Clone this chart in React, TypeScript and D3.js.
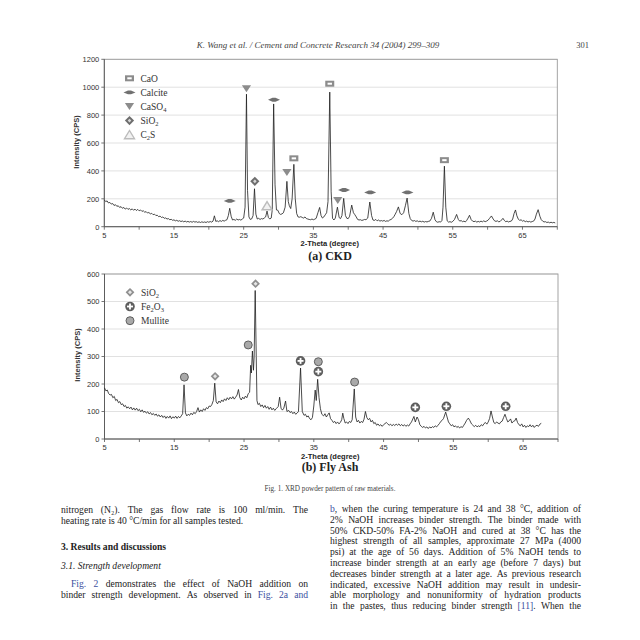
import React from 'react';
import * as d3 from 'd3';

// ---------- DATA ----------
const ckdPattern: [number, number][] = [
  [5.0,192],[5.2,180],[5.4,185],[5.6,170],[5.8,174],[6.0,162],[6.2,166],[6.4,152],[6.6,158],[6.8,146],
  [7.0,150],[7.2,138],[7.4,144],[7.6,132],[7.8,138],[8.0,126],[8.2,134],[8.4,124],[8.6,130],[8.8,120],
  [9.0,128],[9.2,118],[9.4,126],[9.6,116],[9.8,124],[10.0,114],[10.2,120],[10.4,110],[10.6,114],[10.8,104],
  [11.0,108],[11.2,98],[11.4,102],[11.6,92],[11.8,96],[12.0,86],[12.2,90],[12.4,80],[12.6,82],[12.8,72],
  [13.0,76],[13.2,66],[13.4,70],[13.6,60],[13.8,63],[14.0,55],[14.2,58],[14.4,50],[14.6,53],[14.8,46],
  [15.0,49],[15.2,42],[15.4,46],[15.6,39],[15.8,43],[16.0,37],[16.2,41],[16.4,35],[16.6,40],[16.8,34],
  [17.0,38],[17.2,33],[17.4,37],[17.6,32],[17.8,38],[18.0,33],[18.2,36],[18.4,31],[18.6,35],[18.8,30],
  [19.0,35],[19.2,31],[19.4,34],[19.6,30],[19.8,36],[20.0,32],[20.2,37],[20.4,33],[20.6,40],[20.8,78],
  [21.0,38],[21.2,42],[21.4,36],[21.6,44],[21.8,38],[22.0,45],[22.2,40],[22.4,46],[22.6,50],[22.8,80],
  [23.0,132],[23.2,75],[23.4,48],[23.6,52],[23.8,46],[24.0,55],[24.2,48],[24.4,52],[24.6,47],[24.8,55],
  [25.0,62],[25.2,140],[25.4,950],[25.55,260],[25.75,70],[25.95,52],[26.15,56],[26.35,80],[26.55,272],[26.75,90],
  [26.95,55],[27.15,60],[27.35,52],[27.55,58],[27.75,55],[27.95,62],[28.15,70],[28.35,112],[28.55,65],[28.75,55],
  [28.95,62],[29.1,120],[29.3,880],[29.5,300],[29.7,120],[29.9,118],[30.1,95],[30.3,88],[30.5,92],[30.7,100],
  [30.95,140],[31.2,325],[31.4,180],[31.55,150],[31.75,130],[31.95,200],[32.2,447],[32.4,200],[32.6,95],[32.8,70],
  [33.0,68],[33.2,72],[33.4,66],[33.6,62],[33.8,70],[34.0,58],[34.2,55],[34.4,52],[34.6,50],[34.8,55],
  [35.0,50],[35.2,54],[35.4,60],[35.65,100],[35.9,138],[36.1,80],[36.3,62],[36.5,70],[36.7,85],[36.9,100],
  [37.1,180],[37.35,965],[37.55,250],[37.75,60],[37.95,48],[38.15,62],[38.45,140],[38.7,65],[38.9,58],[39.1,80],
  [39.35,203],[39.6,80],[39.8,60],[40.0,58],[40.2,75],[40.5,155],[40.75,100],[40.95,86],[41.15,70],[41.35,52],
  [41.55,48],[41.75,50],[41.95,45],[42.15,48],[42.35,52],[42.55,50],[42.8,62],[43.1,177],[43.35,80],[43.55,48],
  [43.75,45],[43.95,52],[44.15,42],[44.35,48],[44.55,40],[44.75,44],[44.95,40],[45.15,45],[45.35,38],[45.55,42],
  [45.75,40],[45.95,48],[46.15,52],[46.35,60],[46.55,72],[46.75,90],[46.95,110],[47.2,142],[47.45,95],[47.7,86],
  [47.95,100],[48.2,150],[48.45,205],[48.7,95],[48.9,58],[49.1,45],[49.3,40],[49.5,44],[49.7,38],[49.9,42],
  [50.1,36],[50.3,40],[50.5,35],[50.7,39],[50.9,33],[51.1,37],[51.3,34],[51.5,38],[51.7,40],[51.95,60],
  [52.2,104],[52.45,50],[52.65,36],[52.85,32],[53.05,36],[53.25,33],[53.45,45],[53.6,140],[53.8,434],[54.0,140],
  [54.2,42],[54.4,33],[54.6,36],[54.8,32],[55.0,38],[55.25,52],[55.55,88],[55.8,52],[56.0,40],[56.2,44],
  [56.4,36],[56.6,40],[56.8,34],[57.0,45],[57.2,62],[57.4,82],[57.65,50],[57.85,40],[58.05,36],[58.25,40],
  [58.45,33],[58.65,38],[58.85,34],[59.05,40],[59.25,35],[59.45,42],[59.65,36],[59.85,40],[60.05,46],[60.25,58],
  [60.55,77],[60.8,55],[61.0,42],[61.2,38],[61.4,42],[61.6,35],[61.8,38],[62.0,48],[62.2,60],[62.4,45],
  [62.6,36],[62.8,40],[63.0,34],[63.2,38],[63.4,40],[63.6,55],[63.8,95],[64.0,120],[64.2,78],[64.4,55],
  [64.6,45],[64.8,50],[65.0,40],[65.2,44],[65.4,36],[65.6,40],[65.8,34],[66.0,38],[66.2,33],[66.4,37],
  [66.6,40],[66.8,55],[67.0,90],[67.25,122],[67.5,75],[67.7,50],[67.9,40],[68.1,34],[68.3,36],[68.5,30],
  [68.7,33],[68.9,28],[69.1,32],[69.3,28],[69.5,31],[69.7,27]
];

const flyAshPattern: [number, number][] = [
  [5.0,186],[5.2,175],[5.4,178],[5.6,165],[5.8,160],[6.0,162],[6.2,150],[6.4,155],[6.6,140],[6.8,144],
  [7.0,132],[7.2,136],[7.4,125],[7.6,128],[7.8,118],[8.0,122],[8.2,112],[8.4,117],[8.6,110],[8.8,116],
  [9.0,106],[9.2,113],[9.4,105],[9.6,112],[9.8,103],[10.0,108],[10.2,99],[10.4,106],[10.6,97],[10.8,101],
  [11.0,94],[11.2,99],[11.4,91],[11.6,96],[11.8,88],[12.0,93],[12.2,86],[12.4,91],[12.6,83],[12.8,88],
  [13.0,80],[13.2,86],[13.4,78],[13.6,84],[13.8,75],[14.0,82],[14.2,76],[14.4,84],[14.6,74],[14.8,81],
  [15.0,76],[15.2,83],[15.4,75],[15.6,82],[15.8,77],[16.0,84],[16.2,92],[16.4,197],[16.6,95],[16.8,84],
  [17.0,90],[17.2,86],[17.4,94],[17.6,88],[17.8,97],[18.0,92],[18.2,100],[18.4,114],[18.6,98],[18.8,106],
  [19.0,100],[19.2,110],[19.4,104],[19.6,114],[19.8,110],[20.0,120],[20.2,118],[20.4,126],[20.6,140],[20.8,203],
  [21.0,135],[21.2,128],[21.4,138],[21.6,132],[21.8,142],[22.0,136],[22.2,146],[22.4,140],[22.6,150],[22.8,143],
  [23.0,152],[23.2,146],[23.4,154],[23.6,145],[23.8,152],[24.0,160],[24.2,180],[24.4,150],[24.6,142],[24.8,152],
  [25.0,146],[25.2,156],[25.4,150],[25.6,165],[25.8,170],[25.95,268],[26.05,240],[26.2,320],[26.35,250],[26.45,300],
  [26.6,540],[26.75,300],[26.85,140],[27.0,125],[27.2,130],[27.4,118],[27.6,124],[27.8,114],[28.0,122],[28.2,112],
  [28.4,118],[28.6,108],[28.8,116],[29.0,106],[29.2,112],[29.4,104],[29.6,110],[29.9,118],[30.1,152],[30.3,112],
  [30.5,105],[30.7,112],[30.95,138],[31.15,100],[31.4,104],[31.6,96],[31.8,100],[32.0,92],[32.2,98],[32.4,90],
  [32.6,94],[32.8,100],[33.1,258],[33.35,100],[33.6,86],[33.8,90],[34.0,80],[34.2,84],[34.4,74],[34.6,70],
  [34.8,78],[35.0,120],[35.2,178],[35.35,140],[35.55,217],[35.75,150],[35.95,110],[36.15,90],[36.4,84],[36.6,92],
  [36.8,80],[37.0,88],[37.2,95],[37.4,74],[37.6,68],[37.8,60],[38.0,64],[38.2,56],[38.4,62],[38.6,55],
  [38.8,60],[39.0,70],[39.15,94],[39.3,75],[39.5,58],[39.7,62],[39.9,56],[40.1,64],[40.3,60],[40.5,70],
  [40.8,182],[41.0,80],[41.2,62],[41.4,68],[41.6,58],[41.8,64],[42.0,60],[42.2,72],[42.4,100],[42.6,78],
  [42.8,70],[43.0,75],[43.2,62],[43.4,68],[43.6,56],[43.8,60],[44.0,50],[44.2,55],[44.4,48],[44.6,52],
  [44.8,46],[45.0,52],[45.2,56],[45.4,60],[45.6,55],[45.8,50],[46.0,54],[46.2,48],[46.4,53],[46.6,49],
  [46.8,54],[47.0,50],[47.2,55],[47.4,48],[47.6,53],[47.8,47],[48.0,52],[48.2,46],[48.4,51],[48.6,47],
  [48.8,55],[49.0,62],[49.35,82],[49.55,62],[49.8,80],[50.0,70],[50.2,52],[50.4,46],[50.6,42],[50.8,46],
  [51.0,40],[51.2,44],[51.4,38],[51.6,44],[51.8,40],[52.0,45],[52.2,42],[52.4,48],[52.6,44],[52.8,50],
  [53.0,56],[53.2,64],[53.4,68],[53.6,75],[53.9,98],[54.1,80],[54.3,62],[54.5,55],[54.7,48],[54.9,52],
  [55.1,44],[55.3,48],[55.5,42],[55.7,46],[55.9,40],[56.1,45],[56.3,42],[56.5,50],[56.7,58],[56.9,68],
  [57.15,76],[57.35,68],[57.6,55],[57.8,50],[58.0,45],[58.2,50],[58.4,44],[58.6,48],[58.8,45],[59.0,52],
  [59.2,48],[59.4,56],[59.6,60],[59.8,54],[60.0,62],[60.2,75],[60.4,102],[60.6,80],[60.8,60],[61.0,56],
  [61.2,62],[61.4,58],[61.6,55],[61.8,62],[62.0,65],[62.2,78],[62.4,90],[62.6,75],[62.8,62],[63.0,66],
  [63.2,73],[63.4,58],[63.6,64],[63.8,66],[64.0,76],[64.2,60],[64.4,52],[64.6,48],[64.8,55],[65.0,44],
  [65.2,50],[65.4,42],[65.6,48],[65.8,45],[66.0,52],[66.2,44],[66.4,50],[66.6,42],[66.8,48],[67.0,50],
  [67.2,46],[67.4,54],[67.6,57]
];

const xDomain: [number, number] = [5, 70];
const xTickValues = [5, 10, 15, 20, 25, 30, 35, 40, 45, 50, 55, 60, 65, 70];
const xTickLabels = [5, 15, 25, 35, 45, 55, 65];
const ckdYTicks = [0, 200, 400, 600, 800, 1000, 1200];
const flyYTicks = [0, 100, 200, 300, 400, 500, 600];

type MarkerKind = 'CaO' | 'Calcite' | 'CaSO4' | 'SiO2' | 'C2S' | 'SiO2b' | 'Fe2O3' | 'Mullite';

const ckdMarkers: { kind: MarkerKind; x: number; y: number }[] = [
  { kind: 'Calcite', x: 23.0, y: 185 },
  { kind: 'CaSO4', x: 25.4, y: 990 },
  { kind: 'SiO2', x: 26.6, y: 325 },
  { kind: 'C2S', x: 28.35, y: 150 },
  { kind: 'Calcite', x: 29.35, y: 910 },
  { kind: 'CaSO4', x: 31.2, y: 390 },
  { kind: 'CaO', x: 32.2, y: 490 },
  { kind: 'CaO', x: 37.35, y: 1025 },
  { kind: 'CaSO4', x: 38.5, y: 188 },
  { kind: 'Calcite', x: 39.4, y: 263 },
  { kind: 'Calcite', x: 43.15, y: 246 },
  { kind: 'Calcite', x: 48.5, y: 246 },
  { kind: 'CaO', x: 53.8, y: 477 },
];

const flyMarkers: { kind: MarkerKind; x: number; y: number }[] = [
  { kind: 'Mullite', x: 16.45, y: 225 },
  { kind: 'SiO2b', x: 20.85, y: 228 },
  { kind: 'Mullite', x: 25.6, y: 342 },
  { kind: 'SiO2b', x: 26.65, y: 565 },
  { kind: 'Fe2O3', x: 33.1, y: 284 },
  { kind: 'Mullite', x: 35.65, y: 281 },
  { kind: 'Fe2O3', x: 35.65, y: 245 },
  { kind: 'Mullite', x: 40.85, y: 207 },
  { kind: 'Fe2O3', x: 49.55, y: 115 },
  { kind: 'Fe2O3', x: 54.0, y: 119 },
  { kind: 'Fe2O3', x: 62.5, y: 119 },
];

// label parts: [text, isSubscript]
const ckdLegend: { kind: MarkerKind; label: [string, boolean][] }[] = [
  { kind: 'CaO', label: [['CaO', false]] },
  { kind: 'Calcite', label: [['Calcite', false]] },
  { kind: 'CaSO4', label: [['CaSO', false], ['4', true]] },
  { kind: 'SiO2', label: [['SiO', false], ['2', true]] },
  { kind: 'C2S', label: [['C', false], ['2', true], ['S', false]] },
];
const flyLegend: { kind: MarkerKind; label: [string, boolean][] }[] = [
  { kind: 'SiO2b', label: [['SiO', false], ['2', true]] },
  { kind: 'Fe2O3', label: [['Fe', false], ['2', true], ['O', false], ['3', true]] },
  { kind: 'Mullite', label: [['Mullite', false]] },
];

const leftColumn: { text: string; justify: boolean; style?: string; indent?: number }[] = [
  { text: 'nitrogen (N₂). The gas flow rate is 100 ml/min. The', justify: true },
  { text: 'heating rate is 40 °C/min for all samples tested.', justify: false },
  { text: '3. Results and discussions', justify: false, style: 'bold' },
  { text: '3.1. Strength development', justify: false, style: 'italic' },
  { text: '{Fig. 2} demonstrates the effect of NaOH addition on', justify: true, indent: 10 },
  { text: 'binder strength development. As observed in {Fig. 2a and}', justify: true },
];
const leftColumnY = [512.5, 524, 550, 568.5, 586.5, 598];

const rightColumn: string[] = [
  '{b}, when the curing temperature is 24 and 38 °C, addition of',
  '2% NaOH increases binder strength. The binder made with',
  '50% CKD-50% FA-2% NaOH and cured at 38 °C has the',
  'highest strength of all samples, approximate 27 MPa (4000',
  'psi) at the age of 56 days. Addition of 5% NaOH tends to',
  'increase binder strength at an early age (before 7 days) but',
  'decreases binder strength at a later age. As previous research',
  'indicated, excessive NaOH addition may result in undesir-',
  'able morphology and nonuniformity of hydration products',
  'in the pastes, thus reducing binder strength {[11]}. When the',
];

// ---------- HELPERS ----------
const SERIF = '"Liberation Serif", "Times New Roman", serif';
const SANS = '"Liberation Sans", Arial, sans-serif';
const BLUE = '#3b4fa0';

let measureCtx: CanvasRenderingContext2D | null = null;
function textWidth(s: string, font: string) {
  if (!measureCtx) measureCtx = document.createElement('canvas').getContext('2d');
  if (!measureCtx) return s.length * 4.5;
  measureCtx.font = font;
  return measureCtx.measureText(s).width;
}

type Seg = { t: string; blue: boolean };
function parseLine(text: string): Seg[][] {
  const segs: Seg[] = [];
  let blue = false;
  let cur = '';
  for (const ch of text) {
    if (ch === '{' || ch === '}') {
      if (cur) segs.push({ t: cur, blue });
      cur = '';
      blue = ch === '{';
    } else cur += ch;
  }
  if (cur) segs.push({ t: cur, blue });
  const words: Seg[][] = [[]];
  for (const s of segs) {
    const parts = s.t.split(' ');
    parts.forEach((p, i) => {
      if (i > 0) words.push([]);
      if (p) words[words.length - 1].push({ t: p, blue: s.blue });
    });
  }
  return words.filter((w) => w.length > 0);
}

function TextLine({ text, x0, x1, y, justify, size, style }: { text: string; x0: number; x1: number; y: number; justify: boolean; size: number; style?: string }) {
  const weight = style === 'bold' ? 'bold' : 'normal';
  const fstyle = style === 'italic' ? 'italic' : 'normal';
  const font = `${fstyle} ${weight} ${size}px ${SERIF}`;
  const words = parseLine(text);
  const widths = words.map((w) => w.reduce((a, s) => a + textWidth(s.t, font), 0));
  const total = widths.reduce((a, b) => a + b, 0);
  const space = textWidth(' ', font);
  const gap = justify && words.length > 1 ? (x1 - x0 - total) / (words.length - 1) : space;
  let x = x0;
  return (
    <g fontFamily={SERIF} fontSize={size} fontWeight={weight} fontStyle={fstyle} fill="#222">
      {words.map((w, i) => {
        const el = (
          <text key={i} x={x} y={y}>
            {w.map((s, j) => (
              <tspan key={j} fill={s.blue ? BLUE : '#222'}>{s.t}</tspan>
            ))}
          </text>
        );
        x += widths[i] + gap;
        return el;
      })}
    </g>
  );
}

function Marker({ kind, cx, cy }: { kind: MarkerKind; cx: number; cy: number }) {
  const t = `translate(${cx},${cy})`;
  switch (kind) {
    case 'CaO':
      return (
        <g transform={t}>
          <rect x={-4.5} y={-3} width={9} height={6} fill="#8c8c8c" />
          <rect x={-2.2} y={-1} width={4.4} height={2} fill="#fff" />
        </g>
      );
    case 'Calcite':
      return (
        <g transform={t}>
          <path d="M-6,0 L-1.5,-1.9 L1.5,-1.9 L6,0 L1.5,1.9 L-1.5,1.9Z" fill="#707070" />
        </g>
      );
    case 'CaSO4':
      return (
        <g transform={t}>
          <path d="M-4.6,-3.4 L4.6,-3.4 L0,3.6Z" fill="#8c8c8c" />
        </g>
      );
    case 'SiO2':
      return (
        <g transform={t}>
          <path d="M0,-4.6 L4.6,0 L0,4.6 L-4.6,0Z" fill="#6e6e6e" />
          <path d="M0,-1.8 L1.8,0 L0,1.8 L-1.8,0Z" fill="#d8d8d8" />
        </g>
      );
    case 'C2S':
      return (
        <g transform={t}>
          <path d="M0,-4.2 L5,4 L-5,4Z" fill="#f2f2f2" stroke="#bcbcbc" strokeWidth={1.4} />
        </g>
      );
    case 'SiO2b':
      return (
        <g transform={t}>
          <path d="M0,-4.4 L4.4,0 L0,4.4 L-4.4,0Z" fill="#8f8f8f" />
          <path d="M0,-2 L2,0 L0,2 L-2,0Z" fill="#e6e6e6" />
        </g>
      );
    case 'Fe2O3':
      return (
        <g transform={t}>
          <circle r={4.8} fill="#5e5e5e" />
          <rect x={-3} y={-0.9} width={6} height={1.8} fill="#fff" />
          <rect x={-0.9} y={-3} width={1.8} height={6} fill="#fff" />
        </g>
      );
    case 'Mullite':
      return (
        <g transform={t}>
          <circle r={4} fill="#a9a9a9" stroke="#555" strokeWidth={0.9} />
        </g>
      );
  }
  return null;
}

function Label({ parts, x, y }: { parts: [string, boolean][]; x: number; y: number }) {
  return (
    <text x={x} y={y} fontFamily={SERIF} fontSize={9.5} fill="#333">
      {parts.map(([s, sub], i) => (
        <tspan key={i} fontSize={sub ? 6.5 : 9.5} dy={sub ? 2 : i > 0 && parts[i - 1][1] ? -2 : 0}>
          {s}
        </tspan>
      ))}
    </text>
  );
}

type ChartProps = {
  data: [number, number][];
  yMax: number;
  yTicks: number[];
  left: number;
  right: number;
  top: number;
  bottom: number;
  markers: { kind: MarkerKind; x: number; y: number }[];
  legend: { kind: MarkerKind; label: [string, boolean][] }[];
  legendX: number;
  legendY: number;
  legendStep: number;
  yTitleY: number;
};

function XrdChart(p: ChartProps) {
  const x = d3.scaleLinear().domain(xDomain).range([p.left, p.right]);
  const y = d3.scaleLinear().domain([0, p.yMax]).range([p.bottom, p.top]);
  const line = d3
    .line<[number, number]>()
    .x((d) => x(d[0]))
    .y((d) => y(d[1]));
  return (
    <g>
      {p.yTicks.map((t) => (
        <line key={'g' + t} x1={p.left} x2={p.right} y1={y(t)} y2={y(t)} stroke="#d4d4d4" strokeWidth={0.7} />
      ))}
      <rect x={p.left} y={p.top} width={p.right - p.left} height={p.bottom - p.top} fill="none" stroke="#9a9a9a" strokeWidth={0.9} />
      <line x1={p.left} x2={p.left} y1={p.top} y2={p.bottom} stroke="#555" strokeWidth={0.9} />
      <line x1={p.left} x2={p.right} y1={p.bottom} y2={p.bottom} stroke="#555" strokeWidth={0.9} />
      {p.yTicks.map((t) => (
        <g key={'yt' + t}>
          <line x1={p.left - 3} x2={p.left} y1={y(t)} y2={y(t)} stroke="#555" strokeWidth={0.8} />
          <text x={p.left - 5} y={y(t) + 2.8} textAnchor="end" fontFamily={SANS} fontSize={7.5} fill="#333">
            {t}
          </text>
        </g>
      ))}
      {xTickValues.map((t) => (
        <line key={'xt' + t} x1={x(t)} x2={x(t)} y1={p.bottom} y2={p.bottom + 3} stroke="#555" strokeWidth={0.8} />
      ))}
      {xTickLabels.map((t) => (
        <text key={'xl' + t} x={x(t)} y={p.bottom + 11} textAnchor="middle" fontFamily={SANS} fontSize={7.5} fill="#333">
          {t}
        </text>
      ))}
      <path d={line(p.data) || ''} fill="none" stroke="#1e1e1e" strokeWidth={0.8} strokeLinejoin="round" />
      {p.markers.map((m, i) => (
        <Marker key={i} kind={m.kind} cx={x(m.x)} cy={y(m.y)} />
      ))}
      {p.legend.map((l, i) => (
        <g key={'lg' + i}>
          <Marker kind={l.kind} cx={p.legendX} cy={p.legendY + i * p.legendStep} />
          <Label parts={l.label} x={p.legendX + 11} y={p.legendY + i * p.legendStep + 3.2} />
        </g>
      ))}
      <text
        transform={`translate(${p.left - 25},${p.yTitleY}) rotate(-90)`}
        textAnchor="middle"
        fontFamily={SANS}
        fontSize={7.5}
        fontWeight="bold"
        fill="#333"
      >
        Intensity (CPS)
      </text>
      <text x={(p.left + p.right) / 2 - 1} y={p.bottom + 19.5} textAnchor="middle" fontFamily={SANS} fontSize={7.5} fontWeight="bold" fill="#222">
        2-Theta (degree)
      </text>
    </g>
  );
}

export default function App() {
  return (
    <svg width={640} height={640} viewBox="0 0 640 640" style={{ position: 'absolute', left: 0, top: 0, background: '#fff' }}>
      <rect x={0} y={0} width={640} height={640} fill="#fff" />
      <text x={318} y={48} textAnchor="middle" fontFamily={SERIF} fontStyle="italic" fontSize={9} fill="#444">
        K. Wang et al. / Cement and Concrete Research 34 (2004) 299–309
      </text>
      <text x={589} y={48} textAnchor="end" fontFamily={SERIF} fontSize={8.5} fill="#444">
        301
      </text>

      <XrdChart
        data={ckdPattern}
        yMax={1200}
        yTicks={ckdYTicks}
        left={104.3}
        right={557.3}
        top={59.3}
        bottom={226.7}
        markers={ckdMarkers}
        legend={ckdLegend}
        legendX={129.5}
        legendY={78.3}
        legendStep={14.1}
        yTitleY={142}
      />
      <text x={330} y={260} textAnchor="middle" fontFamily={SERIF} fontWeight="bold" fontSize={12} fill="#222">
        (a) CKD
      </text>

      <XrdChart
        data={flyAshPattern}
        yMax={600}
        yTicks={flyYTicks}
        left={104.5}
        right={558}
        top={274}
        bottom={439}
        markers={flyMarkers}
        legend={flyLegend}
        legendX={130}
        legendY={292.3}
        legendStep={14.2}
        yTitleY={355}
      />
      <text x={330} y={470.5} textAnchor="middle" fontFamily={SERIF} fontWeight="bold" fontSize={12} fill="#222">
        (b) Fly Ash
      </text>
      <text x={330} y={491} textAnchor="middle" fontFamily={SERIF} fontSize={7.2} fill="#444">
        Fig. 1. XRD powder pattern of raw materials.
      </text>

      {leftColumn.map((l, i) => (
        <TextLine
          key={'l' + i}
          text={l.text}
          x0={61 + (l.indent || 0)}
          x1={308}
          y={leftColumnY[i]}
          justify={l.justify}
          size={9.6}
          style={l.style}
        />
      ))}
      {rightColumn.map((t, i) => (
        <TextLine key={'r' + i} text={t} x0={330} x1={581} y={512 + i * 10.8} justify={true} size={9.6} />
      ))}
    </svg>
  );
}
